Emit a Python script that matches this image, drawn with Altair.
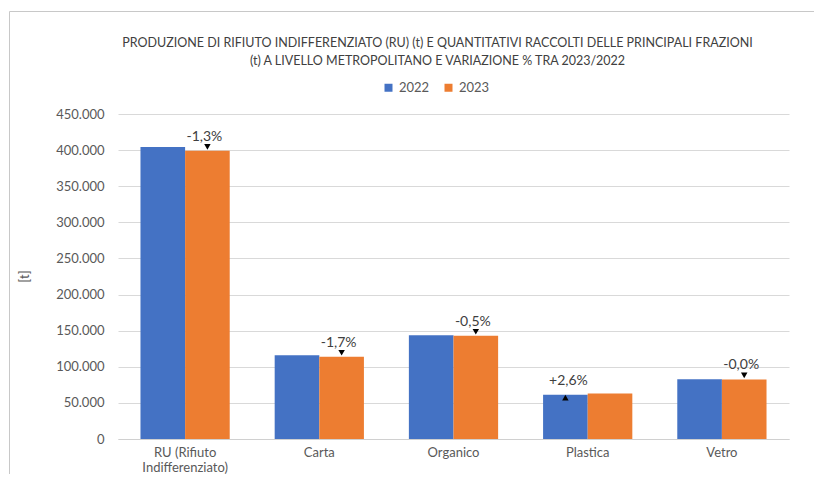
import altair as alt
import pandas as pd

FONT = "Lato"

categories = ["RU (Rifiuto Indifferenziato)", "Carta", "Organico", "Plastica", "Vetro"]
years = ["2022", "2023"]
values_2022 = [404300, 115900, 143600, 61400, 82600]
values_2023 = [399000, 113900, 142900, 63000, 82500]
variation_labels = ["-1,3%", "-1,7%", "-0,5%", "+2,6%", "-0,0%"]
variation_dir = ["down", "down", "down", "up", "down"]
y_ticks = [0, 50000, 100000, 150000, 200000, 250000, 300000, 350000, 400000, 450000]
bar_colors = ["#4472C4", "#ED7D31"]
title_lines = [
    "PRODUZIONE DI RIFIUTO INDIFFERENZIATO (RU) (t) E QUANTITATIVI RACCOLTI DELLE PRINCIPALI FRAZIONI",
    "(t) A LIVELLO METROPOLITANO E VARIAZIONE % TRA 2023/2022",
]

rows = []
for c, a, b in zip(categories, values_2022, values_2023):
    rows.append({"category": c, "year": "2022", "value": a})
    rows.append({"category": c, "year": "2023", "value": b})
bars_df = pd.DataFrame(rows)

ann_rows = []
for c, a, b, lab, d in zip(categories, values_2022, values_2023, variation_labels, variation_dir):
    if d == "down":
        ann_rows.append({"category": c, "year": "2023", "value": b, "label": lab, "dir": d})
    else:
        ann_rows.append({"category": c, "year": "2022", "value": a, "label": lab, "dir": d})
ann_df = pd.DataFrame(ann_rows)

x_enc = alt.X(
    "category:N",
    sort=categories,
    scale=alt.Scale(paddingInner=0.335, paddingOuter=0.1675),
    axis=alt.Axis(
        title=None,
        labelAngle=0,
        labelExpr="datum.label == 'RU (Rifiuto Indifferenziato)' ? ['RU (Rifiuto', 'Indifferenziato)'] : datum.label",
        labelFontSize=13,
        labelColor="#595959",
        labelPadding=7,
        labelLineHeight=15,
        ticks=False,
        domainColor="#d0d0d0",
        grid=False,
    ),
)
xoff_enc = alt.XOffset("year:N", sort=years, scale=alt.Scale(paddingInner=0, paddingOuter=0))
y_enc = alt.Y(
    "value:Q",
    scale=alt.Scale(domain=[0, 450000], nice=False),
    axis=alt.Axis(
        values=y_ticks,
        labelOverlap=False,
        labelExpr="replace(format(datum.value, ','), ',', '.')",
        title="[t]",
        titleFontSize=13,
        titleFontWeight="normal",
        titleColor="#595959",
        titleX=-94,
        titleY=162,
        titleAngle=-90,
        titleAlign="center",
        titleBaseline="middle",
        labelFontSize=13,
        labelColor="#595959",
        labelPadding=14,
        ticks=False,
        domain=False,
        grid=True,
        gridColor="#d9d9d9",
    ),
)

bars = alt.Chart(bars_df).mark_bar().encode(
    x=x_enc,
    xOffset=xoff_enc,
    y=y_enc,
    color=alt.Color(
        "year:N",
        scale=alt.Scale(domain=years, range=bar_colors),
        legend=alt.Legend(
            title=None,
            orient="none",
            legendX=264,
            legendY=-33,
            direction="horizontal",
            symbolType="square",
            symbolSize=64,
            symbolStrokeWidth=0,
            labelFontSize=13,
            labelColor="#595959",
            columnPadding=12,
            labelOffset=4,
            padding=0,
        ),
    ),
)

ann = alt.Chart(ann_df)
tri_down = ann.transform_filter("datum.dir == 'down'").mark_point(
    shape="triangle-down", filled=True, color="black", opacity=1, size=42, yOffset=-4, xOffset=-3
).encode(x=x_enc, xOffset=xoff_enc, y=y_enc)
tri_up = ann.transform_filter("datum.dir == 'up'").mark_point(
    shape="triangle-up", filled=True, color="black", opacity=1, size=42, yOffset=3, xOffset=3
).encode(x=x_enc, xOffset=xoff_enc, y=y_enc)
txt_down = ann.transform_filter("datum.dir == 'down'").mark_text(
    fontSize=14, color="#404040", baseline="alphabetic", dy=-10, dx=-3
).encode(x=x_enc, xOffset=xoff_enc, y=y_enc, text="label:N")
txt_up = ann.transform_filter("datum.dir == 'up'").mark_text(
    fontSize=14, color="#404040", baseline="alphabetic", dy=-10, dx=3
).encode(x=x_enc, xOffset=xoff_enc, y=y_enc, text="label:N")

one = pd.DataFrame({"k": [0]})
border_v = alt.Chart(one).mark_rule(color="#c8c8c8", strokeWidth=1).encode(
    x=alt.value(-108.5), y=alt.value(-102.5), y2=alt.value(370)
)
border_h = alt.Chart(one).mark_rule(color="#c8c8c8", strokeWidth=1).encode(
    x=alt.value(-108.5), x2=alt.value(700), y=alt.value(-102.5)
)

chart = (
    alt.layer(border_v, border_h, bars, tri_down, tri_up, txt_down, txt_up)
    .properties(
        width=671,
        height=325,
        autosize=alt.AutoSizeParams(type="none"),
        padding={"left": 110, "top": 106, "right": 25, "bottom": 35},
        title=alt.Title(
            text=title_lines,
            anchor="middle",
            dx=-16,
            fontSize=12.5,
            fontWeight="normal",
            color="#404040",
            lineHeight=18,
            offset=-56,
        ),
    )
    .configure(font=FONT)
    .configure_view(stroke=None)
)

chart.save("out.html", embed_options={"renderer": "svg", "actions": False})
